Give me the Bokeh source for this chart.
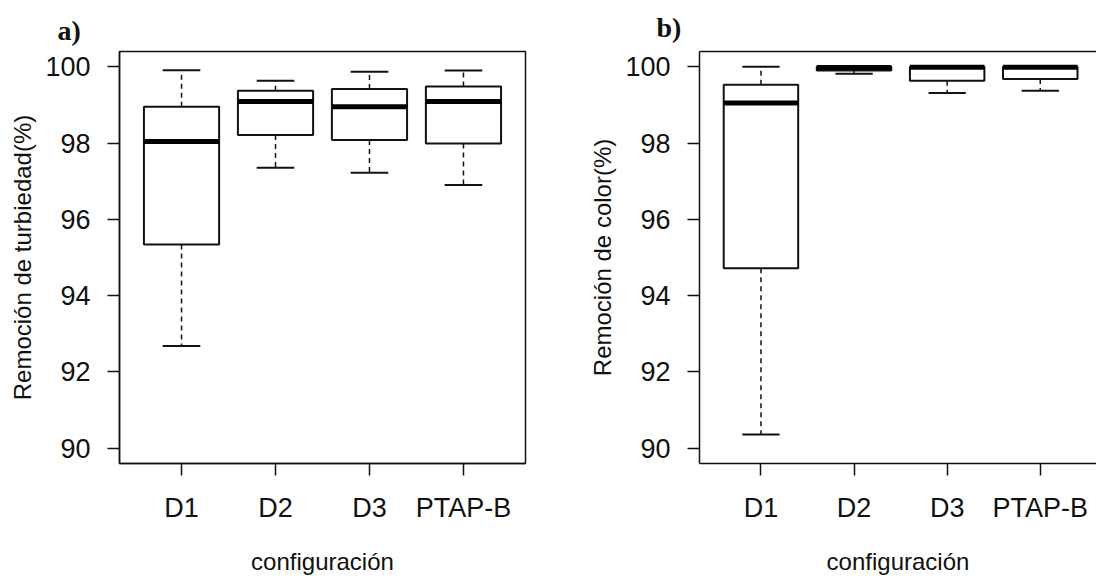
from bokeh.plotting import figure
from bokeh.models import FixedTicker, LinearAxis, Range1d, ColumnDataSource
from bokeh.layouts import row
from bokeh.embed import file_html
from bokeh.resources import INLINE

# ---- data ----
cats = ["D1", "D2", "D3", "PTAP-B"]
y_ticks = [90, 92, 94, 96, 98, 100]

turb_low = [92.68, 97.35, 97.22, 96.90]
turb_q1 = [95.34, 98.21, 98.08, 97.99]
turb_med = [98.04, 99.09, 98.95, 99.09]
turb_q3 = [98.95, 99.37, 99.42, 99.48]
turb_high = [99.91, 99.63, 99.87, 99.90]

color_low = [90.36, 99.82, 99.31, 99.37]
color_q1 = [94.72, 99.90, 99.63, 99.68]
color_med = [99.05, 99.98, 99.99, 99.99]
color_q3 = [99.53, 100.0, 100.0, 100.0]
color_high = [100.0, 100.0, 100.0, 100.0]

FONT = "Liberation Sans"
INK = "#111111"


def make_panel(title, ylabel, low, q1, med, q3, high, width, b_left, b_right,
               x_end, title_offset, title_standoff, open_right):
    xs = list(range(1, len(cats) + 1))
    src = ColumnDataSource(dict(
        x=xs,
        x0=[x - 0.4 for x in xs], x1=[x + 0.4 for x in xs],
        c0=[x - 0.2 for x in xs], c1=[x + 0.2 for x in xs],
        low=low, q1=q1, med=med, q3=q3, high=high,
    ))
    p = figure(width=width, height=578,
               x_range=Range1d(0.34, x_end), y_range=Range1d(89.6, 100.4),
               output_backend="svg", toolbar_location=None,
               min_border_left=b_left, min_border_right=b_right,
               min_border_top=50, min_border_bottom=115,
               background_fill_color="white", border_fill_color="white")
    p.xgrid.grid_line_color = None
    p.ygrid.grid_line_color = None

    # whiskers
    p.segment(x0="x", y0="q3", x1="x", y1="high", source=src,
              line_color=INK, line_width=1.5, line_dash="5 4")
    p.segment(x0="x", y0="q1", x1="x", y1="low", source=src,
              line_color=INK, line_width=1.5, line_dash="5 4")
    # caps
    p.segment(x0="c0", y0="high", x1="c1", y1="high", source=src,
              line_color=INK, line_width=2)
    p.segment(x0="c0", y0="low", x1="c1", y1="low", source=src,
              line_color=INK, line_width=2)
    # boxes
    p.vbar(x="x", width=0.8, bottom="q1", top="q3", source=src,
           fill_color="white", line_color=INK, line_width=2)
    # medians
    p.segment(x0="x0", y0="med", x1="x1", y1="med", source=src,
              line_color="black", line_width=5, line_cap="butt")

    # axes
    p.yaxis.ticker = FixedTicker(ticks=y_ticks)
    p.xaxis.ticker = FixedTicker(ticks=xs)
    p.xaxis.major_label_overrides = {x: c for x, c in zip(xs, cats)}
    for ax in (p.xaxis[0], p.yaxis[0]):
        ax.minor_tick_line_color = None
        ax.major_tick_in = 0
        ax.major_tick_out = 12
        ax.major_tick_line_width = 1.5
        ax.major_tick_line_color = INK
        ax.axis_line_color = INK
        ax.axis_line_width = 1.5
        ax.major_label_text_font = FONT
        ax.major_label_text_font_size = "27px"
        ax.major_label_text_color = INK
        ax.major_label_standoff = 17
        ax.axis_label_text_font = FONT
        ax.axis_label_text_font_size = "24px"
        ax.axis_label_text_font_style = "normal"
        ax.axis_label_text_color = INK
    p.yaxis.axis_label = ylabel
    p.yaxis.axis_label_standoff = 6
    p.xaxis.axis_label = "configuración"
    p.xaxis.axis_label_standoff = 22

    if open_right:
        p.outline_line_color = None
        top = LinearAxis(ticker=FixedTicker(ticks=[]), major_tick_out=0,
                         major_tick_in=0, minor_tick_line_color=None,
                         major_label_text_font_size="0px",
                         axis_line_color=INK, axis_line_width=1.5)
        p.add_layout(top, "above")
    else:
        p.outline_line_color = INK
        p.outline_line_width = 1.5
        p.outline_line_alpha = 1.0

    p.title.text = title
    p.title.text_font = "Liberation Serif"
    p.title.text_font_style = "bold"
    p.title.text_font_size = "28px"
    p.title.text_color = "#111111"
    p.title.align = "left"
    p.title.offset = title_offset
    p.title.standoff = title_standoff
    return p


p1 = make_panel("a)", "Remoción de turbiedad(%)", turb_low, turb_q1, turb_med,
                turb_q3, turb_high, width=546, b_left=119, b_right=21,
                x_end=4.66, title_offset=-62, title_standoff=11, open_right=False)
p2 = make_panel("b)", "Remoción de color(%)", color_low, color_q1, color_med,
                color_q3, color_high, width=550, b_left=153, b_right=0,
                x_end=4.604, title_offset=-43, title_standoff=18, open_right=True)

layout = row(p1, p2)
open("out.html", "w").write(file_html(layout, INLINE))
